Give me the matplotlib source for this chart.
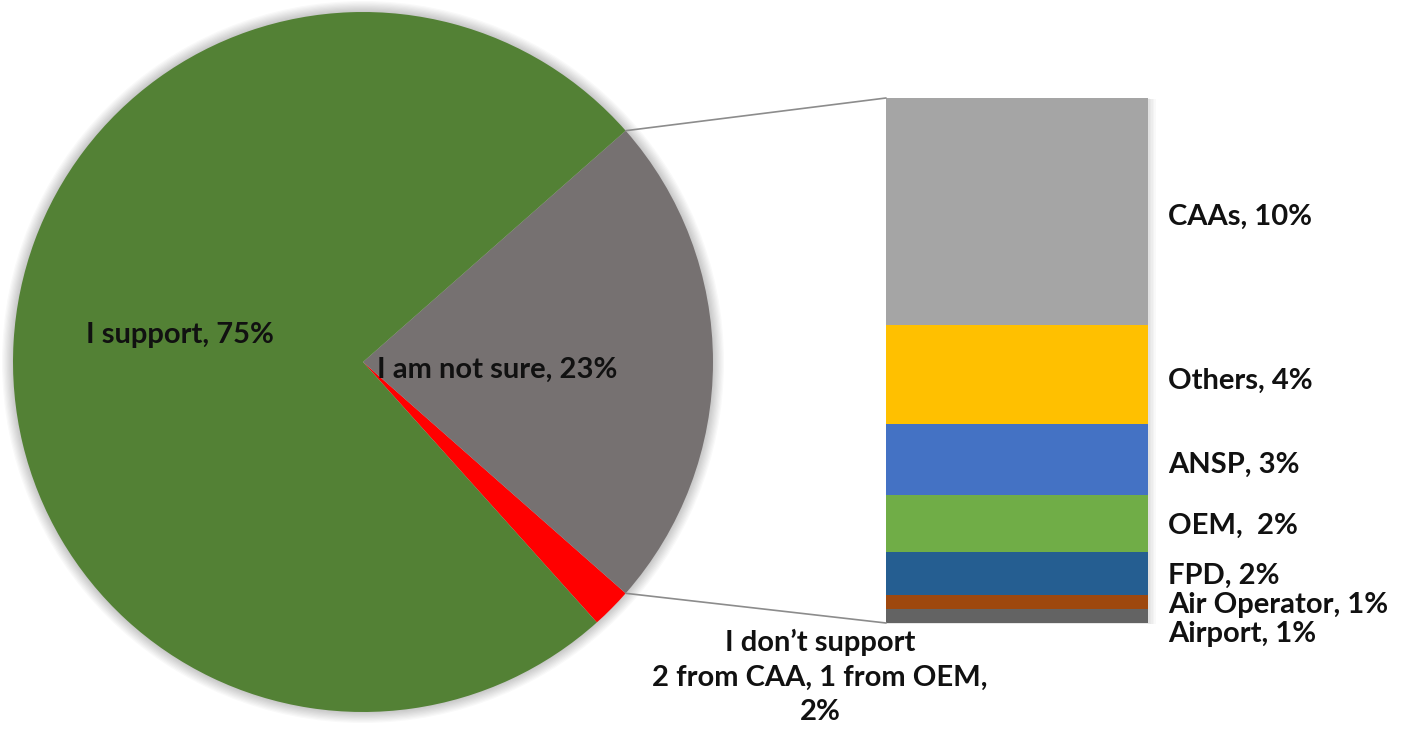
import matplotlib
matplotlib.use("Agg")
import matplotlib.pyplot as plt
from matplotlib.patches import Circle, Rectangle, ConnectionPatch
import numpy as np

plt.rcParams['font.family'] = ['Lato', 'DejaVu Sans']

# Survey responses (number of respondents)
pie_labels = ["I don't support", "I am not sure", "I support"]
pie_counts = [3, 37, 121]
pie_colors = ["#FF0000", "#767171", "#538135"]

# Breakdown of "I am not sure" by stakeholder group (bottom to top)
bar_labels = ["Airport", "Air Operator", "FPD", "OEM", "ANSP", "Others", "CAAs"]
bar_counts = [1, 1, 3, 4, 5, 7, 16]
bar_colors = ["#636363", "#9E480E", "#255E91", "#70AD47", "#4472C4", "#FFC000", "#A5A5A5"]

total = sum(pie_counts)
W, H = 1404, 734
fig = plt.figure(figsize=(W / 100, H / 100), dpi=100)
fig.patch.set_facecolor("white")


def px_axes(left, top, width, height):
    return fig.add_axes([left / W, (H - top - height) / H, width / W, height / H])


# ---- pie ----
ax_pie = px_axes(13, 12, 700, 700)
unsure_share = pie_counts[1] / total * 360.0
start = -unsure_share / 2 - pie_counts[0] / total * 360.0
wedges, _ = ax_pie.pie(pie_counts, colors=pie_colors, startangle=start,
                       counterclock=True, radius=1.0,
                       wedgeprops=dict(linewidth=0))
ax_pie.set_xlim(-1, 1)
ax_pie.set_ylim(-1, 1)
ax_pie.set_aspect("equal")
ax_pie.axis("off")

# soft shadow around the pie
for k in range(1, 10):
    ax_pie.add_patch(Circle((0, 0), 1 + 0.0035 * k, color="black",
                            alpha=0.022, lw=0, zorder=0, clip_on=False))

txt = dict(fontsize=21, fontweight="bold", color="#111111")
ax_pie.text(-0.523, 0.077, f"{pie_labels[2]}, {pie_counts[2] / total:.0%}",
            ha="center", va="center", **txt)
ax_pie.text(0.383, -0.023, f"{pie_labels[1]}, {pie_counts[1] / total:.0%}",
            ha="center", va="center", **txt)
ax_pie.text(1.306, -0.90,
            f"I don\u2019t support\n2 from CAA, 1 from OEM,\n{pie_counts[0] / total:.0%}",
            ha="center", va="center", linespacing=1.4, **txt)

# ---- stacked bar ----
ax_bar = px_axes(886, 98, 262, 525)
bottoms = np.concatenate([[0], np.cumsum(bar_counts)[:-1]])
ax_bar.bar([0] * len(bar_counts), bar_counts, bottom=bottoms, width=1.0,
           color=bar_colors, linewidth=0, zorder=2)
ax_bar.set_xlim(-0.5, 0.5)
ax_bar.set_ylim(0, sum(bar_counts))
ax_bar.axis("off")

# faint shadow on the right/bottom of the bar
for k in range(1, 6):
    ax_bar.add_patch(Rectangle((-0.5, -0.02 * k), 1 + 0.006 * k, sum(bar_counts),
                               color="black", alpha=0.025, lw=0, zorder=1,
                               clip_on=False))

nudge_px = {"CAAs": 5, "Others": 6, "ANSP": 5, "OEM": 2, "FPD": 3,
            "Air Operator": 3, "Airport": 18}
unit_px = 525 / sum(bar_counts)
for lab, cnt, b in zip(bar_labels, bar_counts, bottoms):
    y = b + cnt / 2 - nudge_px[lab] / unit_px
    sep = ",  " if lab == "OEM" else ", "
    ax_bar.text(1.078, y, f"{lab}{sep}{cnt / total:.0%}", transform=ax_bar.get_yaxis_transform(),
                ha="left", va="center", **txt)

# connector lines from the "not sure" wedge edges to the bar corners
theta = np.deg2rad(unsure_share / 2)
for sgn, yb in ((1, sum(bar_counts)), (-1, 0)):
    con = ConnectionPatch(xyA=(np.cos(theta), sgn * np.sin(theta)), coordsA=ax_pie.transData,
                          xyB=(-0.5, yb), coordsB=ax_bar.transData,
                          color="#8C8C8C", lw=1.2)
    fig.add_artist(con)

fig.savefig("out.png", dpi=100, facecolor="white")
